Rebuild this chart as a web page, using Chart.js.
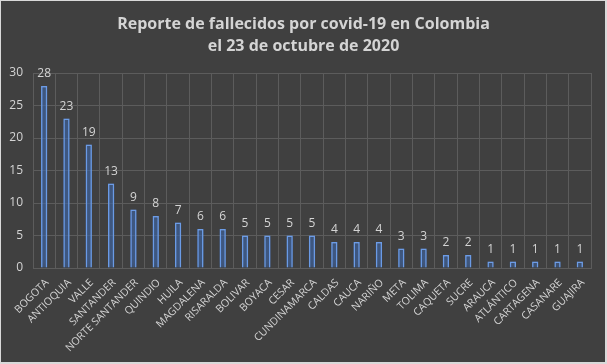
<!DOCTYPE html>
<html>
<head>
<meta charset="utf-8">
<script src="https://cdn.jsdelivr.net/npm/chart.js@4/dist/chart.umd.min.js"></script>
<style>
  html, body { margin: 0; padding: 0; background: #404040; }
  canvas { display: block; }
</style>
</head>
<body>
<canvas id="grafica" width="607" height="364"></canvas>
<script>
// datos
const departamentos = ["BOGOTA", "ANTIOQUIA", "VALLE", "SANTANDER", "NORTE SANTANDER", "QUINDIO", "HUILA",
  "MAGDALENA", "RISARALDA", "BOLIVAR", "BOYACA", "CESAR", "CUNDINAMARCA", "CALDAS", "CAUCA", "NARIÑO",
  "META", "TOLIMA", "CAQUETA", "SUCRE", "ARAUCA", "ATLÁNTICO", "CARTAGENA", "CASANARE", "GUAJIRA"];
const fallecidos = [28, 23, 19, 13, 9, 8, 7, 6, 6, 5, 5, 5, 5, 4, 4, 4, 3, 3, 2, 2, 1, 1, 1, 1, 1];
const titulo = ["Reporte de fallecidos por covid-19 en Colombia", "el 23 de octubre de 2020"];

const gris = "#d4d4d4";

/* fondo y borde */
const fondo = {
  id: "fondo",
  beforeDraw(chart) {
    const c = chart.ctx;
    c.save();
    c.fillStyle = "#d9d9d9";
    c.fillRect(0, 0, chart.width, chart.height);
    c.fillStyle = "#404040";
    c.fillRect(1, 1, chart.width - 3, chart.height - 3);
    c.restore();
  }
};

/* titulo centrado en todo el lienzo */
const encabezado = {
  id: "encabezado",
  afterDraw(chart) {
    const c = chart.ctx;
    c.save();
    c.fillStyle = gris;
    c.font = "bold 16px 'Open Sans'";
    c.textAlign = "center";
    c.textBaseline = "alphabetic";
    titulo.forEach((linea, i) => c.fillText(linea, chart.width / 2, 29 + i * 22));
    c.restore();
  }
};

/* nombres de departamento a 45 grados */
const nombres = {
  id: "nombres",
  afterDraw(chart) {
    const c = chart.ctx;
    const x = chart.scales.x;
    c.save();
    c.fillStyle = gris;
    c.font = "10.5px 'Open Sans'";
    c.textAlign = "right";
    c.textBaseline = "middle";
    departamentos.forEach((nom, i) => {
      c.save();
      c.translate(x.getPixelForTick(i) + 3, x.top + 13);
      c.rotate(-Math.PI / 4);
      c.fillText(nom, 0, 0);
      c.restore();
    });
    c.restore();
  }
};

/* brillo azul de las barras */
const brillo = {
  id: "brillo",
  beforeDatasetsDraw(chart) {
    const c = chart.ctx;
    c.save();
    c.shadowColor = "rgba(70,130,230,1)";
    c.shadowBlur = 8;
  },
  afterDatasetsDraw(chart) {
    chart.ctx.restore();
  }
};

/* etiquetas de valor encima de cada barra */
const etiquetas = {
  id: "etiquetas",
  afterDatasetsDraw(chart) {
    const c = chart.ctx;
    const meta = chart.getDatasetMeta(0);
    c.save();
    c.fillStyle = gris;
    c.font = "12px 'Open Sans'";
    c.textAlign = "center";
    c.textBaseline = "middle";
    meta.data.forEach((barra, i) => {
      c.fillText(fallecidos[i], barra.x, barra.y - 12);
    });
    c.restore();
  }
};

new Chart(document.getElementById("grafica"), {
  type: "bar",
  data: {
    labels: departamentos,
    datasets: [{
      data: fallecidos,
      backgroundColor: "rgba(60,90,140,0.45)",
      borderColor: "#6f9ee6",
      borderWidth: 1.5,
      barPercentage: 0.28,
      categoryPercentage: 1
    }]
  },
  options: {
    responsive: false,
    animation: false,
    layout: { padding: { left: 0, right: 16, top: 73, bottom: 0 } },
    plugins: {
      legend: { display: false },
      tooltip: { enabled: false },
      title: { display: false }
    },
    scales: {
      y: {
        min: 0,
        max: 30,
        ticks: { stepSize: 5, color: gris, font: { family: "'Open Sans'", size: 12 }, padding: 10 },
        grid: { color: "#5c5c5c", drawTicks: false },
        border: { display: false },
        afterFit(s) { s.width = 33; }
      },
      x: {
        ticks: { display: false },
        grid: { color: "#5c5c5c", drawTicks: false, offset: true },
        border: { color: "#5c5c5c" },
        afterFit(s) { s.height = 96; }
      }
    }
  },
  plugins: [fondo, encabezado, nombres, brillo, etiquetas]
});
</script>
</body>
</html>
